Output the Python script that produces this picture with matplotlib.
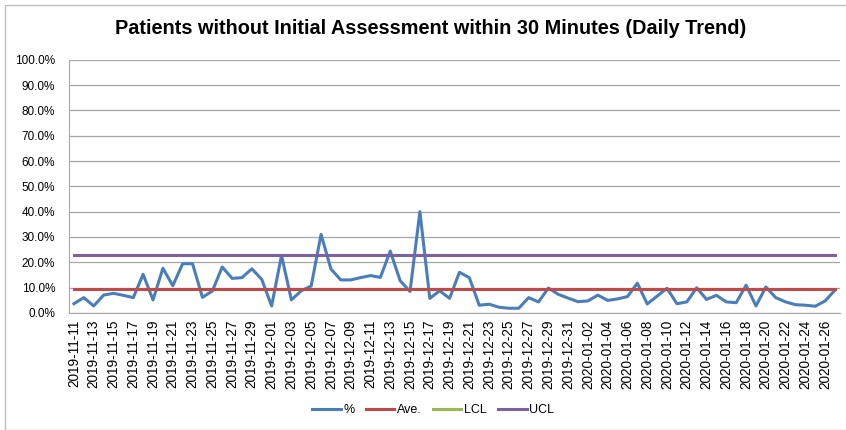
"""
Patients without Initial Assessment within 30 Minutes (Daily Trend)
日次の割合と Ave. / LCL / UCL の管理線を描く。
"""

import datetime as dt

import matplotlib
matplotlib.use("Agg")
import matplotlib.pyplot as plt
from matplotlib.patches import Rectangle

# ---- data (%), 2019-11-11 .. 2020-01-27 ----
start_date = dt.date(2019, 11, 11)
pct = [
    3.6, 6.0, 2.7, 7.0, 7.7, 6.9, 6.0, 15.2, 5.1, 17.6,
    10.7, 19.4, 19.4, 6.1, 8.6, 18.1, 13.6, 13.9, 17.4, 13.2,
    2.7, 22.7, 5.1, 8.7, 10.6, 31.0, 17.3, 13.0, 13.0, 13.9,
    14.7, 14.0, 24.4, 12.7, 8.4, 40.0, 5.7, 8.7, 5.7, 16.0,
    13.9, 3.0, 3.4, 2.2, 1.8, 1.8, 6.0, 4.3, 9.8, 7.3,
    5.8, 4.4, 4.7, 7.0, 4.9, 5.5, 6.4, 11.7, 3.5, 6.6,
    9.7, 3.6, 4.3, 9.9, 5.3, 6.9, 4.3, 4.0, 10.9, 2.7,
    10.2, 6.0, 4.3, 3.2, 3.0, 2.6, 4.7, 9.0,
]
ave_value = 9.3
lcl_value = -4.4   # below axis minimum, so it is clipped like in Excel
ucl_value = 23.0

dates = [start_date + dt.timedelta(days=i) for i in range(len(pct))]
date_labels = [d.strftime("%Y-%m-%d") for d in dates]
ave = [ave_value] * len(pct)
lcl = [lcl_value] * len(pct)
ucl = [ucl_value] * len(pct)

plt.rcParams["font.family"] = ["Liberation Sans", "DejaVu Sans"]

fig = plt.figure(figsize=(8.46, 4.3), dpi=100)
# chart frame like the spreadsheet chart object
fig.patches.append(Rectangle((5 / 846, 0), 1, 1 - 5 / 430, transform=fig.transFigure,
                             fill=False, edgecolor="#bfbfbf", linewidth=1))

ax = fig.add_axes([69 / 846, 1 - 312.8 / 430, (840 - 69) / 846, (312.8 - 59.8) / 430])

x = list(range(len(pct)))
ax.plot(x, pct, color="#4a7ebb", linewidth=2.2, label="%")
ax.plot(x, ave, color="#be4b48", linewidth=2.2, label="Ave.")
ax.plot(x, lcl, color="#98b954", linewidth=2.2, label="LCL")
ax.plot(x, ucl, color="#7d60a0", linewidth=2.2, label="UCL")

ax.set_xlim(-0.5, len(pct) - 0.5)
ax.set_ylim(0, 100)
ax.set_yticks(range(0, 101, 10))
ax.set_yticklabels([f"{v:.1f}%" for v in range(0, 101, 10)], fontsize=8.5)
ax.set_xticks(x[::2])
ax.set_xticklabels(date_labels[::2], rotation=90, fontsize=9.8)
ax.tick_params(axis="x", length=0, pad=5)
ax.tick_params(axis="y", length=0, pad=10)

ax.grid(axis="y", color="#a6a6a6", linewidth=0.9)
ax.set_axisbelow(True)
for side in ("top", "right"):
    ax.spines[side].set_visible(False)
ax.spines["left"].set_color("#a6a6a6")
ax.spines["bottom"].set_color("#a6a6a6")

fig.text(431 / 846, 1 - 29 / 430, "Patients without Initial Assessment within 30 Minutes (Daily Trend)",
         ha="center", va="center", fontsize=14.3, fontweight="bold")

fig.legend(loc="center", bbox_to_anchor=(433 / 846, 1 - 410 / 430), ncol=4, frameon=False,
           fontsize=9, handlelength=2.3, handletextpad=0.2, columnspacing=0.9)

fig.savefig("out.png", dpi=100)
plt.close(fig)
